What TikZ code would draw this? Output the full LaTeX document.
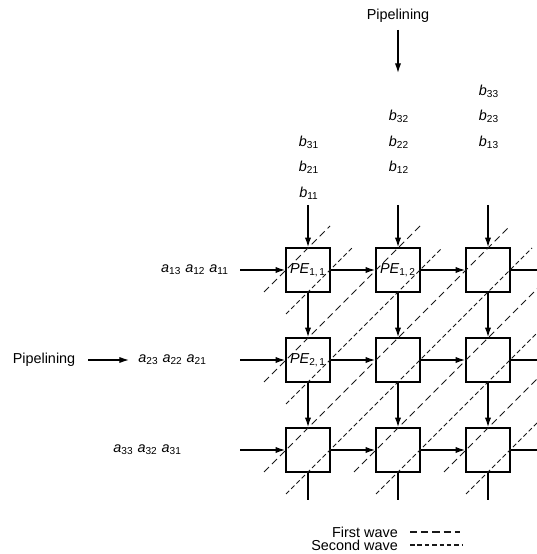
\documentclass[tikz,border=0pt]{standalone}
\usepackage{fontspec}
\setmainfont{Liberation Sans}
\usetikzlibrary{positioning}
\usetikzlibrary{arrows.meta}
\newcommand{\el}[2]{\textit{#1}\textsubscript{#2}}

\begin{document}
\begin{tikzpicture}[font=\fontsize{8.2}{9.8}\selectfont,
  pe/.style={draw=black,line width=0.9pt,minimum width=0.88cm,minimum height=0.88cm,inner sep=0pt},
  flow/.style={line width=0.75pt,-{Latex[length=5.5pt,width=3.6pt]}},
  wire/.style={line width=0.75pt},
  firstwave/.style={black!90,line width=0.6pt,dash pattern=on 4pt off 2.4pt},
  secondwave/.style={black!90,line width=0.6pt,dash pattern=on 2.6pt off 1.6pt}]
\useasboundingbox (0,0) rectangle (10.74,11.08);
\coordinate (redge) at (10.74,0);

% processing elements
\node[pe] (pe11) at (6.16,5.68) {\textit{PE}\textsubscript{1,\,1}};
\node[pe] (pe12) at (7.96,5.68) {\textit{PE}\textsubscript{1,\,2}};
\node[pe] (pe13) at (9.76,5.68) {};
\node[pe] (pe21) at (6.16,3.88) {\textit{PE}\textsubscript{2,\,1}};
\node[pe] (pe22) at (7.96,3.88) {};
\node[pe] (pe23) at (9.76,3.88) {};
\node[pe] (pe31) at (6.16,2.08) {};
\node[pe] (pe32) at (7.96,2.08) {};
\node[pe] (pe33) at (9.76,2.08) {};

% wavefronts
\begin{scope}
\clip (0,0) rectangle (10.74,11.08);
\draw[firstwave] (5.28,5.24) -- (6.60,6.56);
\draw[firstwave] (5.28,3.44) -- (8.40,6.56);
\draw[firstwave] (5.28,1.64) -- (10.20,6.56);
\draw[firstwave] (7.08,1.64) -- (12.00,6.56);
\draw[firstwave] (8.88,1.64) -- (13.80,6.56);
\draw[secondwave] (5.72,4.80) -- (7.04,6.12);
\draw[secondwave] (5.72,3.00) -- (8.84,6.12);
\draw[secondwave] (5.72,1.20) -- (10.64,6.12);
\draw[secondwave] (7.52,1.20) -- (12.44,6.12);
\draw[secondwave] (9.32,1.20) -- (14.24,6.12);
\end{scope}

% b inputs
\coordinate (top1) at (6.16,6.98);
\coordinate (top2) at (7.96,6.98);
\coordinate (top3) at (9.76,6.98);
\draw[flow] (top1) -- (pe11.north);
\draw[flow] (top2) -- (pe12.north);
\draw[flow] (top3) -- (pe13.north);
\node (b11) at (6.18,7.22) {\el{b}{11}};
\node (b21) at (6.18,7.73) {\el{b}{21}};
\node (b31) at (6.18,8.24) {\el{b}{31}};
\node (b12) at (7.98,7.73) {\el{b}{12}};
\node (b22) at (7.98,8.24) {\el{b}{22}};
\node (b32) at (7.98,8.75) {\el{b}{32}};
\node (b13) at (9.78,8.24) {\el{b}{13}};
\node (b23) at (9.78,8.75) {\el{b}{23}};
\node (b33) at (9.78,9.26) {\el{b}{33}};

% a inputs
\coordinate (in1) at (4.80,5.68);
\coordinate (in2) at (4.80,3.88);
\coordinate (in3) at (4.80,2.08);
\draw[flow] (in1) -- (pe11.west);
\draw[flow] (in2) -- (pe21.west);
\draw[flow] (in3) -- (pe31.west);
\node[left=0.1cm of in1] (arow1) {\el{a}{13} \el{a}{12} \el{a}{11}};
\node[left=0.54cm of in2] (arow2) {\el{a}{23} \el{a}{22} \el{a}{21}};
\node[left=1.04cm of in3] (arow3) {\el{a}{33} \el{a}{32} \el{a}{31}};

% links between elements
\draw[flow] (pe11.east) -- (pe12.west);
\draw[flow] (pe12.east) -- (pe13.west);
\draw[flow] (pe21.east) -- (pe22.west);
\draw[flow] (pe22.east) -- (pe23.west);
\draw[flow] (pe31.east) -- (pe32.west);
\draw[flow] (pe32.east) -- (pe33.west);
\draw[flow] (pe11.south) -- (pe21.north);
\draw[flow] (pe12.south) -- (pe22.north);
\draw[flow] (pe13.south) -- (pe23.north);
\draw[flow] (pe21.south) -- (pe31.north);
\draw[flow] (pe22.south) -- (pe32.north);
\draw[flow] (pe23.south) -- (pe33.north);
\draw[wire] (pe13.east) -- (pe13.east -| redge);
\draw[wire] (pe23.east) -- (pe23.east -| redge);
\draw[wire] (pe33.east) -- (pe33.east -| redge);
\coordinate (bot1) at (6.16,1.08);
\coordinate (bot2) at (7.96,1.08);
\coordinate (bot3) at (9.76,1.08);
\draw[wire] (pe31.south) -- (bot1);
\draw[wire] (pe32.south) -- (bot2);
\draw[wire] (pe33.south) -- (bot3);

% pipelining
\node (pipeT) at (7.96,10.76) {Pipelining};
\coordinate (pipeTa) at (7.96,10.48);
\coordinate (pipeTb) at (7.96,9.62);
\draw[flow] (pipeTa) -- (pipeTb);
\node (pipeL) at (0.88,3.88) {Pipelining};
\coordinate (pipeLa) at (1.76,3.88);
\coordinate (pipeLb) at (2.58,3.88);
\draw[flow] (pipeLa) -- (pipeLb);

% legend
\node[anchor=east] (fw) at (8.08,0.44) {First wave};
\node[anchor=east] (sw) at (8.08,0.18) {Second wave};
\draw[firstwave] (8.20,0.44) -- (9.20,0.44);
\draw[secondwave] (8.20,0.18) -- (9.26,0.18);
\end{tikzpicture}
\end{document}
